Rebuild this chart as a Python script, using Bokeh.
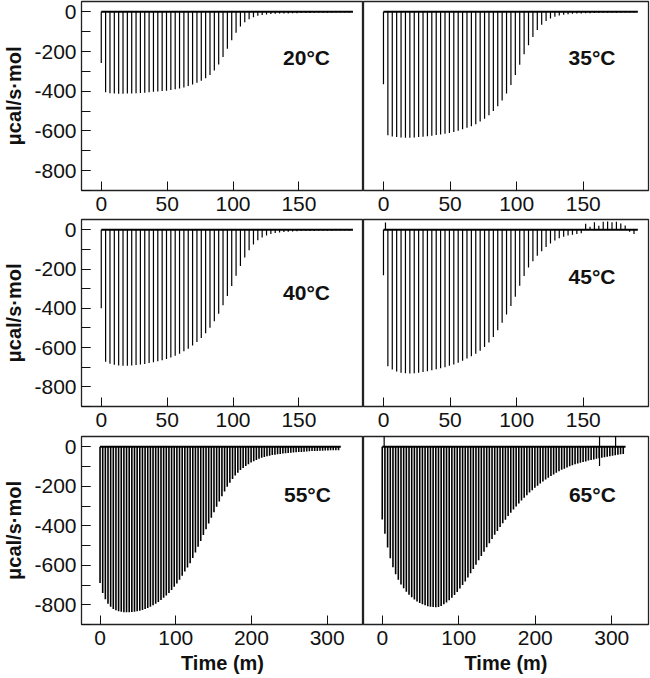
import numpy as np
from bokeh.plotting import figure
from bokeh.layouts import gridplot
from bokeh.models import SingleIntervalTicker, FixedTicker, Label, PrintfTickFormatter
from bokeh.embed import file_html
from bokeh.resources import INLINE

# ---------------- data ----------------
temps = ["20°C", "35°C", "40°C", "45°C", "55°C", "65°C"]
y_label = "μcal/s·mol"
x_label = "Time (m)"
ticks_short = [0, 50, 100, 150]
ticks_long = [0, 100, 200, 300]

interval_short = 3.3   # min between injections (top & middle rows)
interval_long = 3.5    # min between injections (bottom row)
run_end_short = 191.0
run_end_long = 318.0

depth_20 = [-258, -405, -410, -412, -413, -413, -412, -411, -410, -409,
            -407, -405, -403, -401, -399, -397, -394, -390, -386, -381,
            -374, -366, -357, -347, -335, -318, -295, -265, -228, -186,
            -143, -105, -74, -52, -37, -27, -20, -16, -13, -11,
            -10, -9, -8, -8, -7, -7, -6, -6, -6, -5,
            -5, -5, -5, -5, -4, -4, -4, -4]

depth_35 = [-365, -622, -628, -631, -633, -634, -634, -633, -631, -629,
            -627, -624, -621, -618, -614, -610, -605, -599, -592, -584,
            -576, -566, -553, -538, -521, -500, -476, -447, -411, -368,
            -318, -266, -214, -168, -127, -92, -65, -46, -33, -25,
            -19, -15, -12, -10, -9, -8, -7, -7, -6, -6,
            -5, -5, -5, -5, -4, -4, -4, -4]

depth_40 = [-400, -672, -682, -688, -691, -692, -692, -691, -689, -686,
            -683, -679, -675, -670, -664, -658, -650, -641, -631, -619,
            -606, -590, -572, -551, -527, -499, -466, -428, -385, -337,
            -286, -234, -185, -141, -104, -75, -54, -39, -29, -22,
            -17, -14, -12, -10, -9, -8, -7, -7, -6, -6,
            -5, -5, -5, -5, -4, -4, -4, -4]

depth_45 = [-232, -695, -712, -722, -728, -731, -732, -731, -728, -724,
            -720, -715, -710, -705, -700, -693, -686, -677, -667, -656,
            -644, -632, -616, -597, -574, -546, -512, -474, -432, -388,
            -341, -285, -235, -192, -160, -133, -109, -88, -70, -55,
            -44, -36, -30, -26, -22, -18, 30, 15, 38, 20,
            40, 42, 38, 40, 32, 22, -10, -22]

depth_55 = [-690, -740, -772, -795, -810, -821, -828, -833, -836, -838,
            -838, -838, -837, -835, -833, -830, -826, -821, -816, -810,
            -803, -795, -786, -776, -765, -753, -740, -725, -709, -692,
            -673, -653, -632, -611, -590, -563, -535, -506, -477, -447,
            -418, -389, -360, -332, -304, -277, -251, -226, -203, -182,
            -163, -146, -131, -118, -107, -97, -88, -80, -73, -67,
            -61, -56, -52, -48, -45, -42, -40, -38, -36, -34,
            -33, -31, -30, -29, -28, -27, -26, -25, -24, -23,
            -22, -22, -21, -20, -20, -19, -19, -18, -18, -17,
            -17]

depth_65 = [-368, -440, -510, -565, -610, -645, -673, -697, -717, -734,
            -749, -762, -773, -783, -791, -798, -803, -807, -810, -812,
            -813, -811, -806, -798, -789, -777, -764, -750, -735, -718,
            -700, -682, -662, -641, -619, -597, -575, -553, -531, -509,
            -488, -467, -446, -426, -406, -387, -369, -351, -334, -318,
            -302, -287, -272, -258, -245, -232, -220, -208, -197, -186,
            -176, -166, -157, -148, -140, -132, -124, -117, -111, -105,
            -99, -94, -89, -85, -81, -77, -74, -70, -67, -64,
            -61, -58, -56, -53, -51, -48, -46, -43, -41, -38,
            -36]

# spurious spikes (time, top, bottom) seen in the traces
art_45_t, art_45_top, art_45_bot = [1.5], [37], [0]
art_65_t, art_65_top, art_65_bot = [2.5, 284, 305], [70, 70, 70], [0, -97, 0]

# ---------------- styling / layout ----------------
FONT = "Liberation Sans"
LEFT_W, RIGHT_W = 363, 287
INK = "#111111"


def panel(depths, interval, run_end, label, left, frame_h, bot_b, xr, ticks,
          lab_xy, show_xlabel=False, art=None, spike_w=1.2):
    p = figure(width=LEFT_W if left else RIGHT_W, frame_height=frame_h,
               x_range=xr, y_range=(-900, 52), output_backend="svg",
               toolbar_location=None, y_axis_location="left" if left else None,
               min_border_left=79 if left else 0,
               min_border_right=0 if left else 2,
               min_border_top=1, min_border_bottom=bot_b)
    p.xgrid.visible = False
    p.ygrid.visible = False
    p.outline_line_color = "#222222"
    p.outline_line_width = 1.3
    p.outline_line_alpha = 1.0

    xa = p.xaxis[0]
    xa.ticker = FixedTicker(ticks=ticks, minor_ticks=[])
    xa.formatter = PrintfTickFormatter(format="%d")
    xa.major_tick_in = 9
    xa.major_tick_out = 0
    xa.major_tick_line_color = INK
    xa.axis_line_color = None
    xa.major_label_text_font = FONT
    xa.major_label_text_font_size = "21px"
    xa.major_label_text_color = INK
    xa.major_label_text_line_height = 1.0
    xa.major_label_standoff = 6
    if show_xlabel:
        xa.axis_label = x_label
        xa.axis_label_text_font = FONT
        xa.axis_label_text_font_size = "20px"
        xa.axis_label_text_font_style = "bold"
        xa.axis_label_text_color = INK
        xa.axis_label_text_line_height = 1.0
        xa.axis_label_standoff = 4

    if left:
        ya = p.yaxis[0]
        ya.ticker = SingleIntervalTicker(interval=200, num_minor_ticks=2)
        ya.formatter = PrintfTickFormatter(format="%d")
        ya.major_tick_in = 9
        ya.major_tick_out = 0
        ya.minor_tick_in = 9
        ya.minor_tick_out = 0
        ya.major_tick_line_color = INK
        ya.minor_tick_line_color = INK
        ya.axis_line_color = None
        ya.major_label_text_font = FONT
        ya.major_label_text_font_size = "21px"
        ya.major_label_text_color = INK
        ya.major_label_standoff = 5
        ya.axis_label = y_label
        ya.axis_label_text_font = FONT
        ya.axis_label_text_font_size = "20px"
        ya.axis_label_text_font_style = "bold"
        ya.axis_label_text_color = INK
        ya.axis_label_text_line_height = 1.0
        ya.axis_label_standoff = 6

    d = np.asarray(depths, dtype=float)
    t = np.arange(len(d)) * interval
    p.line(x=[t[0], run_end], y=[0, 0], line_color="black", line_width=2)
    p.segment(x0=t, y0=np.zeros_like(d), x1=t, y1=d, line_color="black",
              line_width=spike_w)
    if art is not None:
        at, atop, abot = art
        p.segment(x0=at, y0=abot, x1=at, y1=atop, line_color="black",
                  line_width=1.2)

    p.add_layout(Label(x=lab_xy[0], y=lab_xy[1], text=label, text_font=FONT,
                       text_font_size="21px", text_font_style="bold",
                       text_baseline="middle", text_color=INK))
    return p


xr_s = (-15, 199)
xr_l = (-24.5, 348)

p20 = panel(depth_20, interval_short, run_end_short, temps[0], True, 189, 28,
            xr_s, ticks_short, (138, -232))
p35 = panel(depth_35, interval_short, run_end_short, temps[1], False, 189, 28,
            xr_s, ticks_short, (139, -231))
p40 = panel(depth_40, interval_short, run_end_short, temps[2], True, 187, 29,
            xr_s, ticks_short, (138, -320))
p45 = panel(depth_45, interval_short, run_end_short, temps[3], False, 187, 29,
            xr_s, ticks_short, (139, -237), art=(art_45_t, art_45_top, art_45_bot))
p55 = panel(depth_55, interval_long, run_end_long, temps[4], True, 188, 10,
            xr_l, ticks_long, (243, -243), show_xlabel=True, spike_w=1.6)
p65 = panel(depth_65, interval_long, run_end_long, temps[5], False, 188, 10,
            xr_l, ticks_long, (244, -243), show_xlabel=True,
            art=(art_65_t, art_65_top, art_65_bot), spike_w=1.6)

grid = gridplot([[p20, p35], [p40, p45], [p55, p65]], toolbar_location=None)

open("out.html", "w").write(file_html(grid, INLINE))
